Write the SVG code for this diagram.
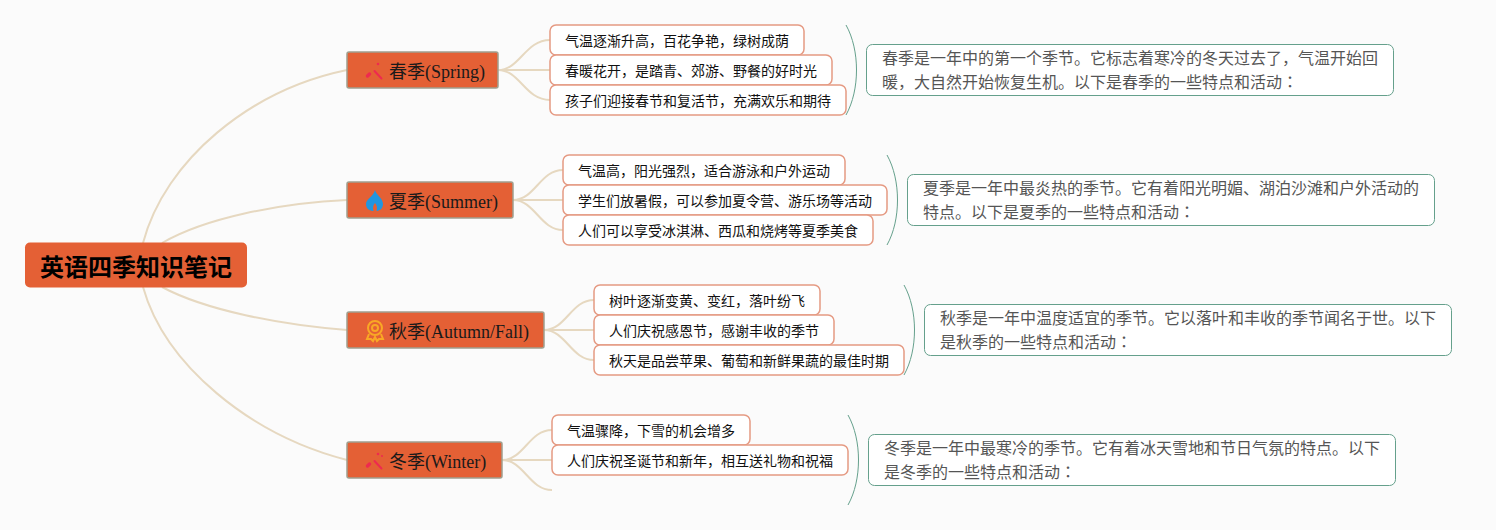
<svg xmlns="http://www.w3.org/2000/svg" width="1496" height="530" viewBox="0 0 1496 530">
<style>
text{font-family:"Liberation Serif","Noto Sans CJK SC",sans-serif}
.p{font-family:"Noto Sans CJK JP",sans-serif}
.root rect{fill:#e46035}
.root text{font-size:24px;font-weight:bold;fill:#000}
.main rect{fill:#e46035;stroke:#a09f8e;stroke-width:1.5}
.main text{font-size:18px;fill:#1a1a1a}
.leaf rect{fill:#fff;stroke:#e59a83;stroke-width:1.5}
.leaf text{font-size:14px;fill:#111}
.note rect{fill:#fff;stroke:#65a08c;stroke-width:1}
.note text{font-size:16px;fill:#555}
.c path{fill:none;stroke:#e6d8c0;stroke-width:2}
.b path{fill:none;stroke:#65a08c;stroke-width:1}
.wand path{fill:none;stroke:#ee2a50;stroke-linecap:round}
.wand circle{fill:#ee2a50}
</style>
<defs>
<g id="wand" class="wand">
<path d="M374.500 71L381.500 78.500" stroke-width="2"/>
<path d="M367.500 76L369.500 74" stroke-width="3.500"/>
<circle cx="378" cy="64" r="1.300"/>
</g>
</defs>
<rect width="1496" height="530" fill="#fbfbfb"/>
<g id="connectors" class="c">
<path d="M143 243C165 160 250 90 347 70"/>
<path d="M162 243C205 218 280 203 347 200"/>
<path d="M162 287C205 310 280 325 347 330"/>
<path d="M143 287C165 365 250 435 347 460"/>
<path d="M498 70C520 70 525 40 550 40"/>
<path d="M498 70H550"/>
<path d="M498 70C520 70 525 100 550 100"/>
<path d="M513 200C535 200 540 170 563 170"/>
<path d="M513 200H563"/>
<path d="M513 200C535 200 540 230 563 230"/>
<path d="M544 330C566 330 571 300 594 300"/>
<path d="M544 330H594"/>
<path d="M544 330C566 330 571 360 594 360"/>
<path d="M502 460C524 460 529 430 552 430"/>
<path d="M502 460H552"/>
<path d="M502 460C524 460 529 490 552 490"/>
</g>
<g id="braces" class="b">
<path d="M846 25C860 50 860 90 846 115"/>
<path d="M887 155C901 180 901 220 887 245"/>
<path d="M904 285C918 310 918 350 904 375"/>
<path d="M848 415C862 440 862 480 848 505"/>
</g>
<g id="root" class="root"><rect x="25" y="242.500" width="222" height="45" rx="5"/><text x="40" y="276">英语四季知识笔记</text></g>

<g id="spring" class="main"><rect x="347" y="52" width="151" height="36" rx="2"/>
<use href="#wand"/>
<text x="389" y="78">春季(Spring)</text></g>
<g id="summer" class="main"><rect x="347" y="182" width="166" height="36" rx="2"/>
<path d="M375 190C376 195 383 198 383 204C383 209 379 211 376.500 211C377.500 208 377 205 375 203C373 205 372.500 208 373.500 211C370 211 366 209 366 204C366 199 373 197 375 190Z" fill="#2196e0"/>
<text x="389" y="208">夏季(Summer)</text></g>
<g id="fall" class="main"><rect x="347" y="312" width="197" height="36" rx="2"/>
<g fill="none" stroke="#f9a825" stroke-width="2"><circle cx="375" cy="328" r="7"/><circle cx="375" cy="328" r="3"/><path d="M369 334L367 339L371 339L373 341L375 337L377 341L379 339L383 339L381 334"/></g>
<text x="389" y="338">秋季(Autumn/Fall)</text></g>
<g id="winter" class="main"><rect x="347" y="442" width="155" height="36" rx="2"/>
<use href="#wand" y="390"/>
<circle cx="382" cy="456" r="1" fill="#ee2a50"/>
<text x="389" y="468">冬季(Winter)</text></g>

<g id="s1" class="leaf"><rect x="550" y="25" width="254" height="30" rx="6"/><text x="565" y="46">气温逐渐升高，百花争艳，绿树成荫</text></g>
<g id="s2" class="leaf"><rect x="550" y="55" width="282" height="30" rx="6"/><text x="565" y="76">春暖花开，是踏青、郊游、野餐的好时光</text></g>
<g id="s3" class="leaf"><rect x="550" y="85" width="296" height="30" rx="6"/><text x="565" y="106">孩子们迎接春节和复活节，充满欢乐和期待</text></g>
<g id="u1" class="leaf"><rect x="563" y="155" width="282" height="30" rx="6"/><text x="578" y="176">气温高，阳光强烈，适合游泳和户外运动</text></g>
<g id="u2" class="leaf"><rect x="563" y="185" width="324" height="30" rx="6"/><text x="578" y="206">学生们放暑假，可以参加夏令营、游乐场等活动</text></g>
<g id="u3" class="leaf"><rect x="563" y="215" width="310" height="30" rx="6"/><text x="578" y="236">人们可以享受冰淇淋、西瓜和烧烤等夏季美食</text></g>
<g id="f1" class="leaf"><rect x="594" y="285" width="226" height="30" rx="6"/><text x="609" y="306">树叶逐渐变黄、变红，落叶纷飞</text></g>
<g id="f2" class="leaf"><rect x="594" y="315" width="240" height="30" rx="6"/><text x="609" y="336">人们庆祝感恩节，感谢丰收的季节</text></g>
<g id="f3" class="leaf"><rect x="594" y="345" width="310" height="30" rx="6"/><text x="609" y="366">秋天是品尝苹果、葡萄和新鲜果蔬的最佳时期</text></g>
<g id="w1" class="leaf"><rect x="552" y="415" width="198" height="30" rx="6"/><text x="567" y="436">气温骤降，下雪的机会增多</text></g>
<g id="w2" class="leaf"><rect x="552" y="445" width="296" height="30" rx="6"/><text x="567" y="466">人们庆祝圣诞节和新年，相互送礼物和祝福</text></g>

<g id="n1" class="note"><rect x="866.500" y="44.500" width="527" height="51" rx="6"/><text x="882" y="64">春季是一年中的第一个季节。它标志着寒冷的冬天过去了，气温开始回</text><text x="882" y="88">暖，大自然开始恢复生机。以下是春季的一些特点和活动<tspan class="p">：</tspan></text></g>
<g id="n2" class="note"><rect x="907.500" y="174.500" width="527" height="51" rx="6"/><text x="923" y="194">夏季是一年中最炎热的季节。它有着阳光明媚、湖泊沙滩和户外活动的</text><text x="923" y="218">特点。以下是夏季的一些特点和活动<tspan class="p">：</tspan></text></g>
<g id="n3" class="note"><rect x="924.500" y="304.500" width="527" height="51" rx="6"/><text x="940" y="324">秋季是一年中温度适宜的季节。它以落叶和丰收的季节闻名于世。以下</text><text x="940" y="348">是秋季的一些特点和活动<tspan class="p">：</tspan></text></g>
<g id="n4" class="note"><rect x="868.500" y="434.500" width="527" height="51" rx="6"/><text x="884" y="454">冬季是一年中最寒冷的季节。它有着冰天雪地和节日气氛的特点。以下</text><text x="884" y="478">是冬季的一些特点和活动<tspan class="p">：</tspan></text></g>
</svg>
